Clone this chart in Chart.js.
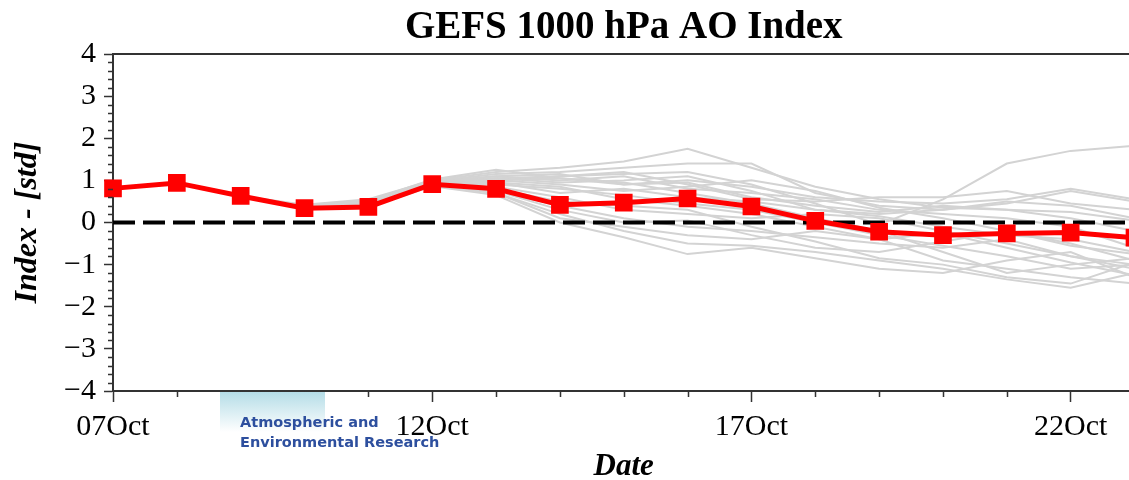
<!DOCTYPE html>
<html>
<head>
<meta charset="utf-8">
<script src="https://cdn.jsdelivr.net/npm/chart.js@4/dist/chart.umd.min.js"></script>
<style>
  html, body { margin: 0; padding: 0; background: #fff; overflow: hidden; }
  #wrap { position: relative; width: 1147px; height: 480px; }
  #logo {
    position: absolute; left: 220px; top: 392px; width: 105px; height: 40px;
    background: linear-gradient(to bottom, #b5dde7, #ffffff);
  }
  #logoText {
    position: absolute; left: 240px; top: 412px;
    font-family: "DejaVu Sans", sans-serif; font-size: 14.5px; font-weight: 600;
    line-height: 20px; color: #2d4f9e; white-space: nowrap;
  }
</style>
</head>
<body>
<div id="wrap">
  <canvas id="chart" width="1147" height="480"></canvas>
  <div id="logo"></div>
  <div id="logoText">Atmospheric and<br>Environmental Research</div>
</div>
<script>
const days = ["07Oct", "08Oct", "09Oct", "10Oct", "11Oct", "12Oct", "13Oct", "14Oct", "15Oct",
              "16Oct", "17Oct", "18Oct", "19Oct", "20Oct", "21Oct", "22Oct", "23Oct"];

// ensemble mean
const meanAO = [0.81, 0.94, 0.63, 0.34, 0.37, 0.91, 0.80, 0.42, 0.47, 0.57, 0.38, 0.04, -0.22, -0.30, -0.26, -0.24, -0.36];

const zeroLine = [0, 0, 0, 0, 0, 0, 0, 0, 0, 0, 0, 0, 0, 0, 0, 0, 0];

// individual members (grey)
const members = [
  [0.81, 0.94, 0.63, 0.42, 0.55, 1.00, 1.20, 1.30, 1.45, 1.75, 1.30, 0.85, 0.55, 0.35, 0.30, 0.25, 0.05],
  [0.81, 0.94, 0.63, 0.40, 0.50, 0.98, 1.15, 1.20, 1.30, 1.40, 1.40, 0.70, 0.40, 0.30, 0.45, 0.75, 0.50],
  [0.81, 0.94, 0.63, 0.38, 0.45, 0.95, 1.05, 1.10, 1.15, 1.20, 0.90, 0.45, -0.05, 0.55, 1.40, 1.70, 1.82],
  [0.81, 0.94, 0.63, 0.39, 0.52, 1.02, 1.25, 1.05, 0.90, 1.00, 0.85, 0.60, 0.50, 0.45, 0.55, 0.80, 0.55],
  [0.81, 0.94, 0.63, 0.37, 0.48, 0.96, 1.10, 1.00, 1.10, 0.80, 0.70, 0.55, 0.30, 0.20, 0.10, -0.10, -0.60],
  [0.81, 0.94, 0.63, 0.36, 0.44, 0.93, 1.00, 0.90, 0.75, 0.85, 1.00, 0.75, 0.35, 0.10, -0.20, -0.50, -0.90],
  [0.81, 0.94, 0.63, 0.35, 0.42, 0.92, 0.95, 0.70, 0.80, 0.60, 0.50, 0.30, 0.20, 0.30, 0.50, 0.40, 0.10],
  [0.81, 0.94, 0.63, 0.36, 0.43, 0.90, 0.85, 0.60, 0.30, 0.20, 0.10, 0.20, 0.10, -0.20, -0.50, -0.80, -1.00],
  [0.81, 0.94, 0.63, 0.35, 0.40, 0.89, 0.75, 0.40, 0.10, -0.10, -0.20, -0.35, -0.50, -0.60, -0.40, -0.80, -1.10],
  [0.81, 0.94, 0.63, 0.34, 0.38, 0.88, 0.70, 0.20, -0.20, -0.50, -0.55, -0.70, -0.90, -1.10, -1.35, -1.55, -1.20],
  [0.81, 0.94, 0.63, 0.33, 0.37, 0.86, 0.65, 0.00, -0.35, -0.75, -0.60, -0.85, -1.10, -1.20, -0.90, -0.70, -1.30],
  [0.81, 0.94, 0.63, 0.34, 0.39, 0.87, 0.80, 0.50, 0.40, 0.30, -0.10, -0.45, -0.85, -1.00, -1.30, -1.45, -0.95],
  [0.81, 0.94, 0.63, 0.35, 0.41, 0.90, 0.90, 0.80, 0.65, 0.45, 0.30, 0.00, -0.30, -0.55, -0.80, -1.10, -1.00],
  [0.81, 0.94, 0.63, 0.36, 0.45, 0.94, 1.00, 1.05, 0.95, 0.70, 0.45, 0.10, -0.20, -0.70, -1.20, -1.00, -0.85],
  [0.81, 0.94, 0.63, 0.37, 0.46, 0.95, 1.05, 0.95, 1.00, 1.10, 0.75, 0.30, 0.15, -0.10, -0.30, -0.40, -0.70],
  [0.81, 0.94, 0.63, 0.38, 0.47, 0.97, 1.10, 1.15, 0.90, 0.95, 0.60, 0.40, 0.25, 0.40, 0.30, 0.10, -0.20],
  [0.81, 0.94, 0.63, 0.35, 0.40, 0.88, 0.75, 0.30, 0.00, 0.05, -0.30, -0.60, -0.70, -0.45, -0.20, -0.55, -0.75],
  [0.81, 0.94, 0.63, 0.34, 0.38, 0.87, 0.70, 0.10, -0.10, -0.30, -0.40, -0.20, -0.40, -0.90, -1.10, -1.30, -1.45],
  [0.81, 0.94, 0.63, 0.37, 0.44, 0.93, 1.00, 1.10, 1.20, 0.90, 0.55, 0.50, 0.60, 0.60, 0.75, 0.45, 0.30],
  [0.81, 0.94, 0.63, 0.36, 0.42, 0.91, 0.95, 0.85, 0.55, 0.40, 0.20, -0.10, -0.40, -0.25, -0.60, -0.95, -1.25]
];

const yMin = -4, yMax = 4;
const serif = "'Liberation Serif', 'Times New Roman', serif";

// minor ticks, top frame line and the centred title
const extras = {
  id: "extras",
  afterDraw(chart) {
    const { ctx, chartArea: a, scales } = chart;
    ctx.save();
    ctx.strokeStyle = "#333";
    ctx.lineWidth = 2;
    ctx.beginPath();
    ctx.moveTo(a.left, a.top);
    ctx.lineTo(a.right, a.top);
    ctx.moveTo(a.right, a.top);
    ctx.lineTo(a.right, a.bottom);
    ctx.stroke();

    ctx.lineWidth = 1.5;
    ctx.beginPath();
    for (let i = yMin * 5; i <= yMax * 5; i++) {
      if (i % 5 === 0) continue;
      const y = Math.round(scales.y.getPixelForValue(i / 5)) + 0.5;
      ctx.moveTo(a.left - 5, y);
      ctx.lineTo(a.left, y);
    }
    for (let i = 0; i < days.length; i++) {
      if (i % 5 === 0) continue;
      const x = Math.round(scales.x.getPixelForValue(i)) + 0.5;
      ctx.moveTo(x, a.bottom);
      ctx.lineTo(x, a.bottom + 6);
    }
    ctx.stroke();

    ctx.fillStyle = "#000";
    ctx.font = "bold 39px " + serif;
    ctx.textAlign = "center";
    ctx.textBaseline = "alphabetic";
    ctx.fillText("GEFS 1000 hPa AO Index", (a.left + a.right) / 2, 38);
    ctx.restore();
  }
};

const datasets = members.map(m => ({
  data: m,
  borderColor: "#d3d3d3",
  borderWidth: 2,
  pointRadius: 0,
  tension: 0,
  order: 3
}));
datasets.push({
  data: zeroLine,
  borderColor: "#000",
  borderWidth: 4,
  borderDash: [22, 8],
  pointRadius: 0,
  order: 2
});
datasets.push({
  data: meanAO,
  borderColor: "#ff0000",
  borderWidth: 5,
  pointStyle: "rect",
  pointRadius: 12.5,
  pointBackgroundColor: "#ff0000",
  pointBorderColor: "#ff0000",
  pointBorderWidth: 0,
  order: 1
});

new Chart(document.getElementById("chart"), {
  type: "line",
  data: { labels: days, datasets: datasets },
  options: {
    responsive: false,
    animation: false,
    devicePixelRatio: 1,
    layout: { padding: { top: 54, right: 2, left: 0, bottom: 0 } },
    plugins: { legend: { display: false }, tooltip: { enabled: false }, title: { display: false } },
    scales: {
      x: {
        offset: false,
        afterFit(scale) { scale.height = 89; },
        border: { display: true, color: "#333", width: 2 },
        grid: {
          drawOnChartArea: false,
          tickLength: 11,
          tickWidth: 1.5,
          tickColor: ctx => (ctx.index % 5 === 0 ? "#333" : "rgba(0,0,0,0)")
        },
        ticks: {
          autoSkip: false,
          maxRotation: 0,
          padding: 7,
          color: "#000",
          font: { family: serif, size: 30 },
          callback: (v, i) => (i % 5 === 0 ? days[i] : "")
        },
        title: {
          display: true,
          text: "Date",
          color: "#000",
          font: { family: serif, size: 31, weight: "bold", style: "italic", lineHeight: 1 },
          padding: { top: 0, bottom: -2 }
        }
      },
      y: {
        min: yMin,
        max: yMax,
        afterFit(scale) { scale.width = 113; },
        border: { display: true, color: "#333", width: 2 },
        grid: { drawOnChartArea: false, tickLength: 9, tickWidth: 1.5, tickColor: "#333" },
        ticks: {
          stepSize: 1,
          padding: 8,
          color: "#000",
          font: { family: serif, size: 30 },
          callback: v => (v < 0 ? "\u2212" + Math.abs(v) : String(v))
        },
        title: {
          display: true,
          text: "Index - [std]",
          color: "#000",
          font: { family: serif, size: 32, weight: "bold", style: "italic", lineHeight: 1 },
          padding: { top: 12, bottom: 0 }
        }
      }
    }
  },
  plugins: [extras]
});
</script>
</body>
</html>
